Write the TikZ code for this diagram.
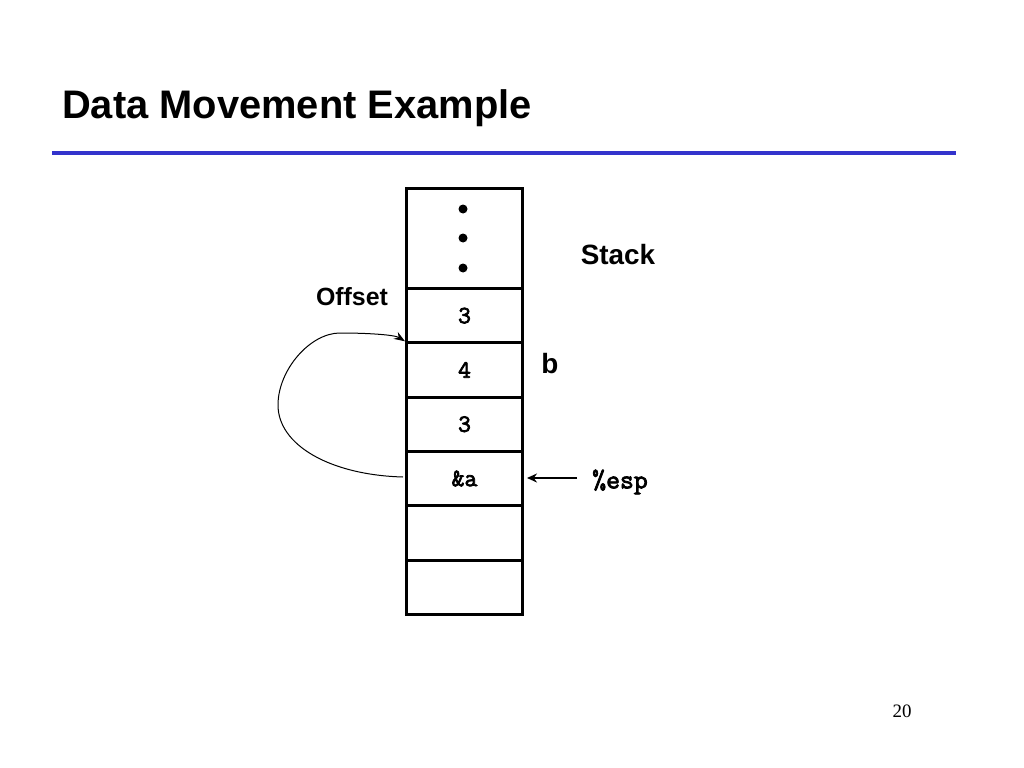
\documentclass[tikz,border=0pt]{standalone}
\usepackage{fontspec}
\setmainfont{Liberation Serif}
\setsansfont{Liberation Sans}
\newfontfamily\titlefont{Liberation Sans}
\newfontfamily\courfont[FakeBold=3]{Latin Modern Mono}
\usetikzlibrary{arrows.meta}
\definecolor{rule}{RGB}{51,51,204}
\begin{document}
\begin{tikzpicture}[x=1bp,y=-1bp,
  cell/.style={draw,line width=3bp,minimum width=116bp,minimum height=54.3bp,inner sep=0pt,anchor=north west,font=\courfont\fontsize{25}{27}\selectfont},
  lbl/.style={font=\sffamily\bfseries\fontsize{28}{30}\selectfont,inner sep=0pt},
  dotc/.style={circle,fill=black,minimum size=9bp,inner sep=0pt}]
\useasboundingbox (0,0) rectangle (1024,768);
\fill[white] (0,0) rectangle (1024,768);
\node[anchor=base west,inner sep=0pt,font=\titlefont\bfseries\fontsize{40}{44}\selectfont] (title) at (62,118) {Data Movement Example};
\draw[rule,line width=4bp] (52,153) -- (956,153);
% stack
\node[cell,minimum height=100bp] (top) at (405,187) {};
\node[dotc] (d1) at (463,209) {};
\node[dotc] (d2) at (463,238) {};
\node[dotc] (d3) at (463,268) {};
\node[cell] (c1) at (405,287) {3};
\node[cell] (c2) at (405,341.3) {4};
\node[cell] (c3) at (405,395.6) {3};
\node[cell] (c4) at (405,449.9) {\&a};
\node[cell] (c5) at (405,504.2) {};
\node[cell] (c6) at (405,558.5) {};
\node[lbl] (stack) at (618,255) {Stack};
\node[lbl,font=\sffamily\bfseries\fontsize{25}{27}\selectfont] (offset) at (352,297) {Offset};
\node[lbl] (b) at (550,364) {b};
\node[inner sep=0pt,font=\courfont\fontsize{27}{29}\selectfont] (esp) at (620,482) {\%esp};
\coordinate (espa) at (577,478);
\coordinate (espb) at (527,478);
\draw[-{Stealth[length=10bp,width=9bp]},line width=2bp] (espa) -- (espb);
\coordinate (cs) at (403,477);
\draw[-{Stealth[length=11bp,width=8bp]},line width=1bp] (cs) .. controls (330,475) and (278,445) .. (278,405) .. controls (278,370) and (310,333) .. (340,333) .. controls (370,333) and (395,335) .. (c2.north west);
\node[anchor=center,inner sep=0pt,font=\fontsize{19}{21}\selectfont] (pg) at (902,711) {20};
\end{tikzpicture}
\end{document}
